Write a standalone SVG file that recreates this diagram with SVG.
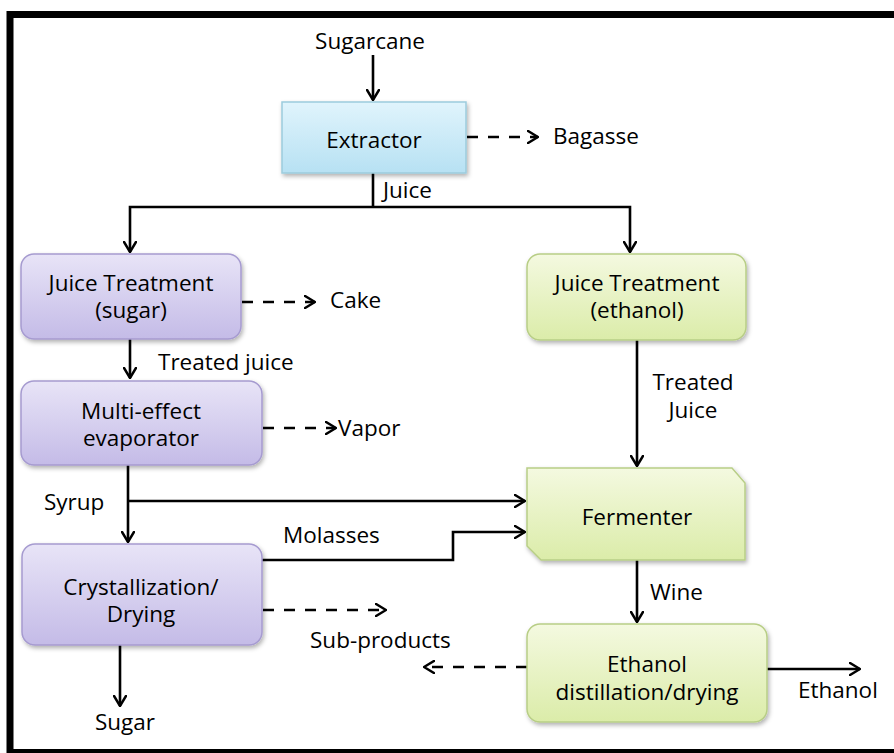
<svg xmlns="http://www.w3.org/2000/svg" width="894" height="753" viewBox="0 0 894 753">
<defs>
<linearGradient id="gBlue" x1="0" y1="0" x2="0" y2="1"><stop offset="0" stop-color="#e0f4fc"/><stop offset="1" stop-color="#b7e1f3"/></linearGradient>
<linearGradient id="gPurple" x1="0" y1="0" x2="0" y2="1"><stop offset="0" stop-color="#e8e4f7"/><stop offset="1" stop-color="#c4bbe7"/></linearGradient>
<linearGradient id="gGreen" x1="0" y1="0" x2="0" y2="1"><stop offset="0" stop-color="#f4f9e0"/><stop offset="1" stop-color="#dbeca9"/></linearGradient>
<filter id="shadow" x="-10%" y="-10%" width="130%" height="130%"><feDropShadow dx="1.5" dy="2.5" stdDeviation="2" flood-color="#000" flood-opacity="0.3"/></filter>
<marker id="arr" viewBox="0 0 12 14" refX="11" refY="7" markerWidth="12" markerHeight="14" markerUnits="userSpaceOnUse" orient="auto">
<path d="M1,1 L11,7 L1,13" fill="none" stroke="#000" stroke-width="2.5" stroke-linecap="round" stroke-linejoin="miter"/>
</marker>
</defs>
<style>
text{font-family:"Open Sans","Noto Sans","Liberation Sans",sans-serif;font-size:22.5px;fill:#000;}
.m{text-anchor:middle;}
.blue{fill:url(#gBlue);stroke:#9ccbdd;stroke-width:1.5;filter:url(#shadow);}
.purple{fill:url(#gPurple);stroke:#a69bd0;stroke-width:1.5;filter:url(#shadow);}
.green{fill:url(#gGreen);stroke:#b8ce86;stroke-width:1.5;filter:url(#shadow);}
.c{fill:none;stroke:#000;stroke-width:2.6;}
.a{marker-end:url(#arr);}
.d{stroke-dasharray:11 10;}
</style>
<rect x="0" y="0" width="894" height="753" fill="#fff"/>
<rect x="10" y="14.5" width="900" height="738" fill="none" stroke="#000" stroke-width="7"/>

<g id="connectors">
<path class="c a" d="M373,55 V100"/>
<path class="c a d" d="M467,137 H538"/>
<path class="c" d="M373,173 V207"/>
<path class="c a" d="M373,207 H130 V252"/>
<path class="c a" d="M373,207 H630 V252"/>
<path class="c a d" d="M242,302 H315"/>
<path class="c a" d="M130,339 V378"/>
<path class="c a d" d="M263,428 H336"/>
<path class="c a" d="M128,465 V542"/>
<path class="c a" d="M128,501 H525"/>
<path class="c a" d="M262,560 H453 V532 H525"/>
<path class="c a d" d="M263,610 H386"/>
<path class="c a" d="M120,645 V706"/>
<path class="c a" d="M637,340 V466"/>
<path class="c a" d="M637,560 V622"/>
<path class="c a d" d="M527,667 H424"/>
<path class="c a" d="M767,669 H860"/>
</g>

<g id="labels">
<text class="m" x="370" y="49">Sugarcane</text>
<text x="553" y="144">Bagasse</text>
<text x="383" y="198">Juice</text>
<text x="330" y="308">Cake</text>
<text x="158" y="370">Treated juice</text>
<text x="338" y="436">Vapor</text>
<text x="44" y="510">Syrup</text>
<text x="283" y="543">Molasses</text>
<text x="310" y="648">Sub-products</text>
<text class="m" x="125" y="730">Sugar</text>
<text class="m" x="693" y="390">Treated</text>
<text class="m" x="693" y="418">Juice</text>
<text x="650" y="600">Wine</text>
<text x="798" y="698">Ethanol</text>
</g>

<g id="extractor">
<rect class="blue" x="282" y="102" width="184" height="71"/>
<text class="m" x="374" y="148">Extractor</text>
</g>

<g id="juice-treatment-sugar">
<rect class="purple" x="21" y="254" width="220" height="85" rx="13"/>
<text class="m" x="131" y="291">Juice Treatment</text>
<text class="m" x="131" y="318">(sugar)</text>
</g>

<g id="multi-effect-evaporator">
<rect class="purple" x="21" y="381" width="241" height="84" rx="13"/>
<text class="m" x="141" y="419">Multi-effect</text>
<text class="m" x="141" y="446">evaporator</text>
</g>

<g id="crystallization-drying">
<rect class="purple" x="22" y="544" width="240" height="101" rx="13"/>
<text class="m" x="141" y="595">Crystallization/</text>
<text class="m" x="141" y="622">Drying</text>
</g>

<g id="juice-treatment-ethanol">
<rect class="green" x="527" y="254" width="219" height="86" rx="13"/>
<text class="m" x="637" y="291">Juice Treatment</text>
<text class="m" x="637" y="318">(ethanol)</text>
</g>

<g id="fermenter">
<path class="green" d="M527,468 H732 L745,483 V560 H541 L527,546 Z"/>
<text class="m" x="637" y="525">Fermenter</text>
</g>

<g id="ethanol-distillation">
<rect class="green" x="527" y="624" width="240" height="98" rx="13"/>
<text class="m" x="647" y="672">Ethanol</text>
<text class="m" x="647" y="700">distillation/drying</text>
</g>
</svg>
